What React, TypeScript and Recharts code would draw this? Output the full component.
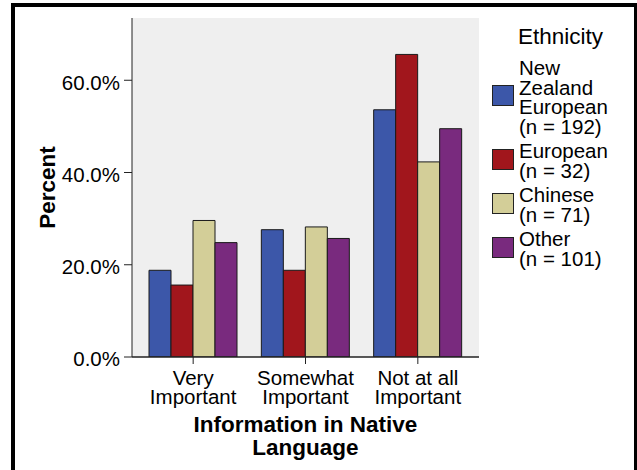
import { BarChart, Bar, XAxis, YAxis, CartesianGrid, Legend, Label } from "recharts";

const categories = [
  ["Very", "Important"],
  ["Somewhat", "Important"],
  ["Not at all", "Important"],
];
const seriesNames = ["New Zealand European", "European", "Chinese", "Other"];
const seriesCounts = [192, 32, 71, 101];
const seriesColors = ["#3c57a9", "#a1161c", "#d3ce98", "#792a7e"];

const nzEuropean = [18.8, 27.6, 53.6];
const european = [15.6, 18.8, 65.6];
const chinese = [29.6, 28.2, 42.3];
const other = [24.8, 25.7, 49.5];

const yTicks = [0, 20, 40, 60];

const seriesValues = [nzEuropean, european, chinese, other];
const data = categories.map((c, i) => {
  const row: any = { category: c.join(" ") };
  seriesValues.forEach((vals, s) => {
    row["s" + s] = vals[i];
  });
  return row;
});

const FONT = "'Liberation Sans', Arial, sans-serif";

const CategoryTick = ({ x, y, payload }: any) => {
  const lines = categories[payload.index] || [payload.value];
  return (
    <text x={x} y={y} textAnchor="middle" fontSize={20.5} fill="#000" fontFamily={FONT}>
      {lines.map((l, i) => (
        <tspan key={i} x={x} y={y + 18.5 + i * 19.5}>
          {l}
        </tspan>
      ))}
    </text>
  );
};

const PercentTick = ({ x, y, payload }: any) => (
  <text x={x} y={y} dy={9.3} textAnchor="end" fontSize={20.5} fill="#000" fontFamily={FONT}>
    {Number(payload.value).toFixed(1)}%
  </text>
);

// legend keeps the series order, whatever order recharts hands the payload in
const EthnicityLegend = ({ payload }: any) => {
  const items = seriesNames.map((name, i) => {
    const hit = (payload || []).find((p: any) => p.value === name);
    return { name, n: seriesCounts[i], color: hit ? hit.color : seriesColors[i] };
  });
  return (
    <div style={{ fontFamily: FONT, fontSize: 20.5, lineHeight: "19.5px", color: "#000" }}>
      <div style={{ fontSize: 22.5, lineHeight: "24px", marginLeft: 26, marginBottom: 9 }}>
        Ethnicity
      </div>
      {items.map((it) => (
        <div key={it.name} style={{ display: "flex", alignItems: "center", marginBottom: 5 }}>
          <div
            style={{
              width: 22,
              height: 21,
              background: it.color,
              border: "1px solid #222",
              boxSizing: "border-box",
              marginRight: 5,
              marginTop: -3,
              flexShrink: 0,
            }}
          />
          <div style={{ width: 100 }}>
            <div>{it.name}</div>
            <div>(n = {it.n})</div>
          </div>
        </div>
      ))}
    </div>
  );
};

export default function App() {
  return (
    <div
      style={{
        position: "absolute",
        left: 0,
        top: 0,
        width: 637,
        height: 470,
        overflow: "hidden",
        background: "#fff",
      }}
    >
      <div
        style={{
          position: "absolute",
          left: 11,
          top: 3,
          width: 627,
          height: 490,
          border: "4px solid #000",
          boxSizing: "border-box",
        }}
      />
      <BarChart
        width={637}
        height={470}
        data={data}
        margin={{ top: 18, right: 158, bottom: 8, left: 8 }}
        barGap={0}
        barSize={22}
        style={{ fontFamily: FONT }}
      >
        <CartesianGrid horizontal={false} vertical={false} fill="#efefef" />
        <XAxis
          dataKey="category"
          height={105}
          padding={{ left: 5, right: 5 }}
          tickSize={7}
          tickMargin={2}
          tick={<CategoryTick />}
          tickLine={{ stroke: "#222" }}
          axisLine={{ stroke: "#222", strokeWidth: 1.5 }}
          interval={0}
        >
          <Label
            content={({ viewBox }: any) => {
              const cx = viewBox.x + viewBox.width / 2;
              return (
                <text textAnchor="middle" fontSize={22.5} fontWeight="bold" fill="#000" fontFamily={FONT}>
                  <tspan x={cx} y={viewBox.y + 75}>Information in Native</tspan>
                  <tspan x={cx} y={viewBox.y + 98}>Language</tspan>
                </text>
              );
            }}
          />
        </XAxis>
        <XAxis
          xAxisId="top"
          dataKey="category"
          orientation="top"
          height={0}
          tick={false}
          tickLine={false}
          axisLine={{ stroke: "#333" }}
        />
        <YAxis
          domain={[0, 73.5]}
          ticks={yTicks}
          width={124}
          tickSize={8}
          tickMargin={4}
          tick={<PercentTick />}
          tickLine={{ stroke: "#222" }}
          axisLine={{ stroke: "#222" }}
          allowDataOverflow
        >
          <Label
            content={({ viewBox }: any) => {
              const lx = viewBox.x + 47;
              const ly = viewBox.y + viewBox.height / 2;
              return (
                <text
                  x={lx}
                  y={ly}
                  textAnchor="middle"
                  fontSize={22.5}
                  fontWeight="bold"
                  fill="#000"
                  fontFamily={FONT}
                  transform={`rotate(-90, ${lx}, ${ly})`}
                >
                  Percent
                </text>
              );
            }}
          />
        </YAxis>
        <YAxis
          yAxisId="right"
          orientation="right"
          width={0}
          domain={[0, 73.5]}
          tick={false}
          tickLine={false}
          axisLine={{ stroke: "#333" }}
        />
        <Legend
          layout="horizontal"
          verticalAlign="middle"
          align="center"
          wrapperStyle={{ left: 492, top: 25, width: 140, height: "auto" }}
          content={<EthnicityLegend />}
        />
        {seriesNames.map((name, i) => (
          <Bar
            key={name}
            dataKey={"s" + i}
            name={name}
            fill={seriesColors[i]}
            stroke="#1a1a1a"
            strokeWidth={1}
            isAnimationActive={false}
          />
        ))}
      </BarChart>
    </div>
  );
}
